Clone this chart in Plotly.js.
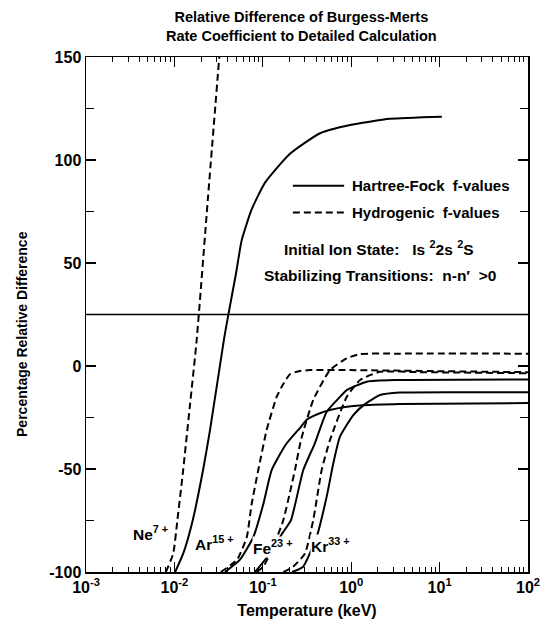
<!DOCTYPE html>
<html>
<head>
<meta charset="utf-8">
<script src="https://cdn.plot.ly/plotly-3.0.1.min.js"></script>
<style>html,body{margin:0;padding:0;background:#fff}#chart{width:542px;height:623px}</style>
</head>
<body>
<div id="chart"></div>
<script>
// ---- data (Temperature in keV, percentage relative difference) ----
const neHydroT = [0.0080, 0.0097, 0.0108, 0.0126, 0.0150, 0.0179, 0.0239, 0.0322];
const neHydroV = [-100, -91, -75, -50, -19, 13, 81, 150];
const neHfT = [0.0102, 0.0126, 0.0161, 0.0212, 0.0253, 0.0364, 0.0404, 0.0498, 0.0577, 0.0748, 0.106, 0.203, 0.444, 0.968, 2.75, 10.6];
const neHfV = [-100, -91, -75, -50, -31, 13, 24, 45, 61, 76, 89, 103, 113, 117, 120, 121];

const arHydroT = [0.0335, 0.0512, 0.0659, 0.0748, 0.0889, 0.1107, 0.1435, 0.169, 0.203, 0.264, 0.342, 0.968, 10, 100];
const arHydroV = [-100, -94, -83, -67, -50.5, -31, -15, -9, -4, -2.4, -2, -2, -2.5, -3];
const arHfT = [0.0373, 0.0552, 0.0782, 0.1014, 0.126, 0.183, 0.264, 0.316, 0.421, 0.575, 0.851, 1.36, 3.56, 100];
const arHfV = [-100, -94, -83, -67, -50.5, -38, -30, -26, -23.3, -21.4, -19.9, -19, -18.4, -18];

const feHydroT = [0.0853, 0.1014, 0.1315, 0.1706, 0.231, 0.270, 0.372, 0.575, 0.889, 1.26, 3.56, 100];
const feHydroV = [-100, -97.4, -87.7, -74.8, -50.5, -36, -16.5, -2, 3.7, 5.8, 6, 6];
const feHfT = [0.0816, 0.1205, 0.1675, 0.2084, 0.287, 0.389, 0.528, 0.746, 0.889, 1.50, 3.27, 100];
const feHfV = [-100, -91, -81, -74.8, -50.5, -37.4, -22.2, -15, -11.7, -7.6, -6.8, -6.5];

const krHydroT = [0.171, 0.221, 0.300, 0.372, 0.4634, 0.575, 0.889, 1.26, 2.12, 5.9, 100];
const krHydroV = [-100, -97.4, -91, -74.8, -50.5, -36, -15, -6.8, -2.8, -3, -3.5];
const krHfT = [0.214, 0.284, 0.407, 0.528, 0.628, 0.746, 1.057, 1.43, 2.12, 3.56, 100];
const krHfV = [-100, -97.6, -82.9, -63.4, -47.2, -34.3, -23.8, -18.5, -14.1, -12.9, -12.8];

const refLineValue = [25];

const xTickVals = [0.001, 0.01, 0.1, 1, 10, 100];
const xTickText = ['10<sup>-3</sup>', '10<sup>-2</sup>', '10<sup>-1</sup>', '10<sup>0</sup>', '10<sup>1</sup>', '10<sup>2</sup>'];
const yTickVals = [-100, -50, 0, 50, 100, 150];
const yTickText = ['-100', '-50', '0', '50', '100', '150'];
const ionLabels = ['Ne<sup>7 +</sup>', 'Ar<sup>15 +</sup>', 'Fe<sup>23 +</sup>', 'Kr<sup>33 +</sup>'];
const seriesNames = ['Hartree-Fock\u00a0\u00a0f-values', 'Hydrogenic\u00a0\u00a0f-values'];

// ---- styling ----
const FONT = 'Liberation Sans, Arial, Helvetica, sans-serif';
const solid = {color: '#000', width: 2, shape: 'spline', smoothing: 0.5};
const dashed = {color: '#000', width: 2, dash: '7px,4px', shape: 'spline', smoothing: 0.5};

function tr(x, y, name, line) {
  return {x: x, y: y, mode: 'lines', name: name, line: line, showlegend: false,
          connectgaps: false, hoverinfo: 'x+y+name'};
}

const traces = [
  tr(neHydroT, neHydroV, 'Ne7+ Hydrogenic', dashed),
  tr(neHfT, neHfV, 'Ne7+ Hartree-Fock', solid),
  tr(arHydroT, arHydroV, 'Ar15+ Hydrogenic', dashed),
  tr(arHfT, arHfV, 'Ar15+ Hartree-Fock', solid),
  tr(feHydroT, feHydroV, 'Fe23+ Hydrogenic', dashed),
  tr(feHfT, feHfV, 'Fe23+ Hartree-Fock', solid),
  tr(krHydroT, krHydroV, 'Kr33+ Hydrogenic', dashed),
  tr(krHfT, krHfV, 'Kr33+ Hartree-Fock', solid)
];

const bold = (size) => ({family: FONT, size: size, color: '#000', weight: 700});

function ionLabel(text, x, y) {
  return {text: text, xref: 'paper', yref: 'paper', x: x, y: y, xanchor: 'center', yanchor: 'middle',
          showarrow: false, font: bold(15.5), bgcolor: '#fff', borderpad: 0};
}

const layout = {
  width: 542, height: 623,
  margin: {l: 86, r: 14, t: 57, b: 51},
  paper_bgcolor: '#fff', plot_bgcolor: '#fff',
  showlegend: false,
  title: {
    text: 'Relative Difference of Burgess-Merts<br>Rate Coefficient to Detailed Calculation',
    font: bold(14.5), x: 0.556, xanchor: 'center', xref: 'container',
    y: 1 - 22 / 623, yanchor: 'top', yref: 'container'
  },
  xaxis: {
    type: 'log', range: [-3, 2],
    tickmode: 'array', tickvals: xTickVals, ticktext: xTickText,
    ticks: 'inside', ticklen: 10, tickwidth: 1.3, tickcolor: '#000',
    showline: true, linecolor: '#000', linewidth: 1.5, mirror: 'ticks',
    showgrid: false, zeroline: false,
    tickfont: bold(16),
    minor: {ticks: 'inside', ticklen: 5, tickwidth: 1, tickcolor: '#000', dtick: 'D1', showgrid: false},
    title: {text: 'Temperature (keV)', font: bold(16), standoff: 10}
  },
  yaxis: {
    range: [-100, 150], tickmode: 'array', tickvals: yTickVals, ticktext: yTickText,
    ticks: 'inside', ticklen: 10, tickwidth: 1.3, tickcolor: '#000',
    showline: true, linecolor: '#000', linewidth: 1.5, mirror: 'ticks',
    showgrid: false, zeroline: false,
    tickfont: bold(16),
    minor: {ticks: 'inside', ticklen: 8, tickwidth: 1, tickcolor: '#000', dtick: 25, tick0: 0, showgrid: false}
  },
  shapes: [
    {type: 'line', xref: 'paper', x0: 0, x1: 1, yref: 'y', y0: refLineValue[0], y1: refLineValue[0],
     line: {color: '#000', width: 1.3}},
    {type: 'line', xref: 'paper', x0: 0.468, x1: 0.584, yref: 'paper', y0: 0.750, y1: 0.750,
     line: {color: '#000', width: 2}},
    {type: 'line', xref: 'paper', x0: 0.468, x1: 0.584, yref: 'paper', y0: 0.698, y1: 0.698,
     line: {color: '#000', width: 2, dash: '7px,4px'}}
  ],
  annotations: [
    {text: 'Percentage Relative Difference', xref: 'paper', yref: 'paper', x: -0.145, y: 0.462,
     xanchor: 'center', yanchor: 'middle', textangle: -90, showarrow: false, font: bold(14)},
    {text: seriesNames[0], xref: 'paper', yref: 'paper', x: 0.597, y: 0.750, xanchor: 'left', yanchor: 'middle', showarrow: false, font: bold(15)},
    {text: seriesNames[1], xref: 'paper', yref: 'paper', x: 0.597, y: 0.698, xanchor: 'left', yanchor: 'middle', showarrow: false, font: bold(15)},
    {text: 'Initial Ion State:\u00a0\u00a0\u00a0Is\u00a0<sup>2</sup>2s\u00a0<sup>2</sup>S', xref: 'paper', yref: 'paper', x: 0.443, y: 0.629, xanchor: 'left', yanchor: 'middle', showarrow: false, font: bold(15.5)},
    {text: 'Stabilizing Transitions:\u00a0\u00a0n-n\u2032\u00a0\u00a0>0', xref: 'paper', yref: 'paper', x: 0.398, y: 0.575, xanchor: 'left', yanchor: 'middle', showarrow: false, font: bold(15.5)},
    ionLabel(ionLabels[0], 0.147, 0.0757),
    ionLabel(ionLabels[1], 0.290, 0.0563),
    ionLabel(ionLabels[2], 0.423, 0.0485),
    ionLabel(ionLabels[3], 0.553, 0.0524)
  ]
};

Plotly.newPlot('chart', traces, layout, {displayModeBar: false, staticPlot: true});
</script>
</body>
</html>
